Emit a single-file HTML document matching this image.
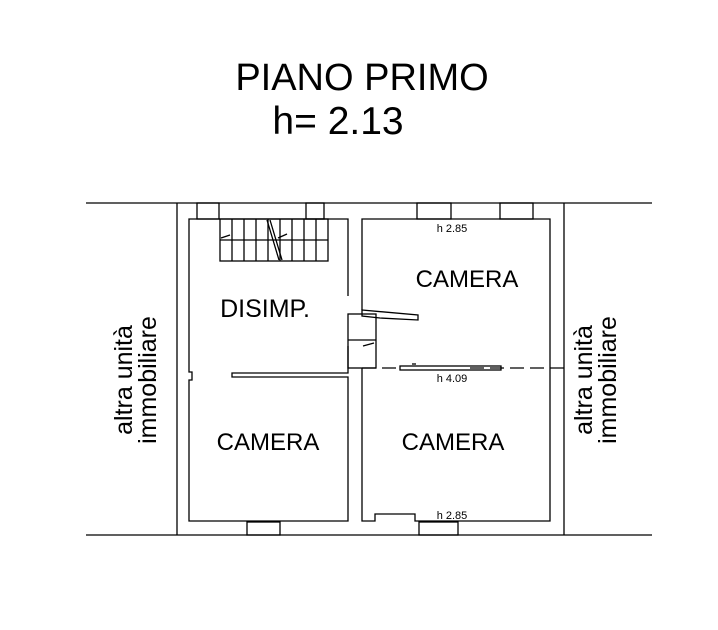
<!DOCTYPE html>
<html><head><style>
html,body{margin:0;padding:0;background:#fff;}
svg{display:block;}
text{font-family:"Liberation Sans",Arial,sans-serif;fill:#000;}
</style></head><body>
<svg width="718" height="630" viewBox="0 0 718 630" xmlns="http://www.w3.org/2000/svg">
<g stroke="#000" stroke-width="1.3" fill="none">
<line x1="86" y1="203" x2="652" y2="203"/>
<line x1="86" y1="535" x2="652" y2="535"/>
<line x1="177" y1="203" x2="177" y2="535"/>
<line x1="564" y1="203" x2="564" y2="535"/>
<polyline points="348,296 348,219 189,219 189,372 192,372 192,380 189,380 189,521 348,521 348,377 232,377 232,373 348,373 348,346"/>
<polyline points="362,310 362,219 550,219 550,521 415,521 415,514 375,514 375,521 362,521 362,368"/>
<rect x="197" y="203" width="22" height="16"/>
<rect x="306" y="203" width="18" height="16"/>
<rect x="417" y="203" width="34" height="16"/>
<rect x="500" y="203" width="33" height="16"/>
<rect x="247" y="522" width="33" height="13"/>
<rect x="419" y="522" width="39" height="13"/>
<rect x="220" y="219" width="108" height="42"/>
<line x1="220" y1="240" x2="328" y2="240"/>
<line x1="232" y1="219" x2="232" y2="261"/>
<line x1="244" y1="219" x2="244" y2="261"/>
<line x1="256" y1="219" x2="256" y2="261"/>
<line x1="268" y1="219" x2="268" y2="261"/>
<line x1="280" y1="219" x2="280" y2="261"/>
<line x1="292" y1="219" x2="292" y2="261"/>
<line x1="304" y1="219" x2="304" y2="261"/>
<line x1="316" y1="219" x2="316" y2="261"/>
<line x1="267" y1="220" x2="279" y2="260"/>
<line x1="270" y1="220" x2="282" y2="260"/>
<line x1="221" y1="238" x2="230" y2="235"/>
<line x1="278" y1="238" x2="287" y2="234"/>
<rect x="348" y="314" width="28" height="54"/>
<line x1="348" y1="340" x2="376" y2="340"/>
<line x1="363" y1="346" x2="374" y2="343"/>
<polygon points="362,310 418,315 418,320 380,318 362,316"/>
<line x1="362" y1="368" x2="400" y2="368" stroke-dasharray="14,6"/>
<line x1="470" y1="368" x2="564" y2="368" stroke-dasharray="14,6"/>
<rect x="400" y="366" width="101" height="4"/>
<line x1="412" y1="364" x2="416" y2="364"/>
</g>
<text x="362" y="90" font-size="38" text-anchor="middle">PIANO PRIMO</text>
<text x="338" y="134" font-size="39" text-anchor="middle">h= 2.13</text>
<text x="265" y="317" font-size="25" text-anchor="middle">DISIMP.</text>
<text x="467" y="287" font-size="24" text-anchor="middle">CAMERA</text>
<text x="268" y="450" font-size="24" text-anchor="middle">CAMERA</text>
<text x="453" y="450" font-size="24" text-anchor="middle">CAMERA</text>
<text x="452" y="232" font-size="11" text-anchor="middle">h 2.85</text>
<text x="452" y="382" font-size="11" text-anchor="middle">h 4.09</text>
<text x="452" y="519" font-size="11" text-anchor="middle">h 2.85</text>
<text transform="translate(132,380) rotate(-90)" font-size="25" text-anchor="middle">altra unità</text>
<text transform="translate(156,380) rotate(-90)" font-size="25" text-anchor="middle">immobiliare</text>
<text transform="translate(592,380) rotate(-90)" font-size="25" text-anchor="middle">altra unità</text>
<text transform="translate(616,380) rotate(-90)" font-size="25" text-anchor="middle">immobiliare</text>
</svg>
</body></html>
